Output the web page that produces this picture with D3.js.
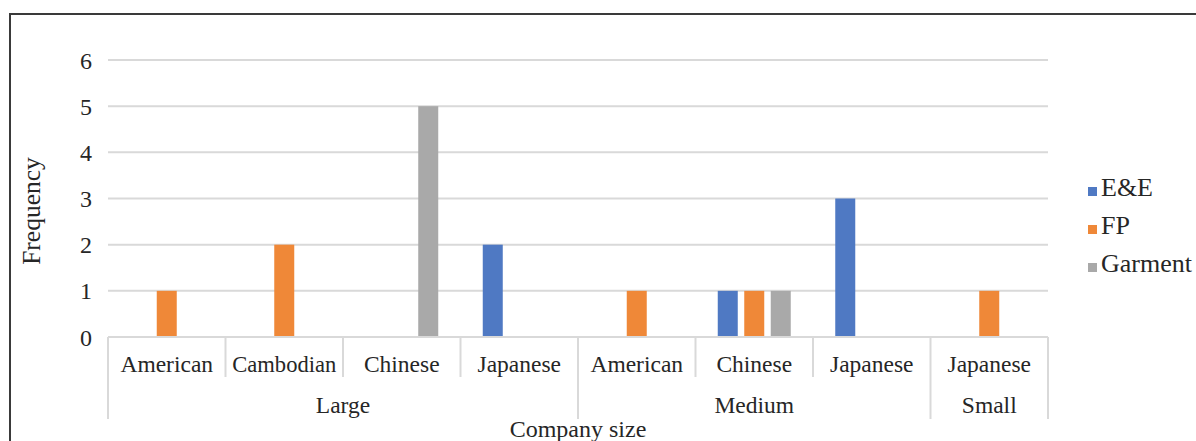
<!DOCTYPE html>
<html>
<head>
<meta charset="utf-8">
<script src="https://cdn.jsdelivr.net/npm/d3@7"></script>
<style>
  html, body { margin: 0; padding: 0; background: #fff; }
  svg { display: block; }
  text { font-family: "Liberation Serif", "Times New Roman", serif; fill: #262626; }
</style>
</head>
<body>
<svg id="chart" width="1196" height="441"></svg>
<script>
// ---- data ----
const categories = ["American", "Cambodian", "Chinese", "Japanese", "American", "Chinese", "Japanese", "Japanese"];
const groups = ["Large", "Large", "Large", "Large", "Medium", "Medium", "Medium", "Small"];
const seriesNames = ["E&E", "FP", "Garment"];
const eeValues      = [0, 0, 0, 2, 0, 1, 3, 0];
const fpValues      = [1, 2, 0, 0, 1, 1, 0, 1];
const garmentValues = [0, 0, 5, 0, 0, 1, 0, 0];
const yTicks = [0, 1, 2, 3, 4, 5, 6];
const xTitle = "Company size";
const yTitle = "Frequency";
const colors = ["#4F79C3", "#EF8838", "#A9A9A9"];

const seriesValues = [eeValues, fpValues, garmentValues];

const svg = d3.select("#chart");

// outer frame
svg.append("path")
  .attr("d", "M10,441 L10,14 L1196,14")
  .attr("fill", "none").attr("stroke", "#3a3a3a").attr("stroke-width", 2);

const plotLeft = 108, plotRight = 1048, plotTop = 60, plotBottom = 337;

const y = d3.scaleLinear().domain([0, 6]).range([plotBottom, plotTop]);
const idx = categories.map((d, i) => i);
const x = d3.scaleBand().domain(idx).range([plotLeft, plotRight]).padding(0);
const xi = d3.scaleBand().domain(seriesNames).range([0, x.bandwidth()])
  .paddingInner(0.245).paddingOuter(0.84);

// gridlines
svg.append("g").selectAll("line").data(yTicks.filter(t => t > 0)).join("line")
  .attr("x1", plotLeft).attr("x2", plotRight)
  .attr("y1", d => y(d)).attr("y2", d => y(d))
  .attr("stroke", "#d9d9d9").attr("stroke-width", 2);

// y tick labels
svg.append("g").selectAll("text").data(yTicks).join("text")
  .attr("x", 92).attr("y", d => y(d) + 8.5)
  .attr("text-anchor", "end")
  .style("font-size", "24px")
  .text(d => d);

// y title
svg.append("text")
  .attr("transform", "translate(40,211) rotate(-90)")
  .attr("text-anchor", "middle")
  .style("font-size", "25.5px")
  .text(yTitle);

// bars
seriesNames.forEach((s, si) => {
  svg.append("g").selectAll("rect")
    .data(seriesValues[si].map((v, i) => ({ v, i })).filter(d => d.v > 0))
    .join("rect")
    .attr("x", d => x(d.i) + xi(s))
    .attr("width", xi.bandwidth())
    .attr("y", d => y(d.v))
    .attr("height", d => y(0) - y(d.v))
    .attr("fill", colors[si]);
});

// axis line
svg.append("line")
  .attr("x1", plotLeft).attr("x2", plotRight)
  .attr("y1", y(0)).attr("y2", y(0))
  .attr("stroke", "#d9d9d9").attr("stroke-width", 2);

// group spans
const groupSpans = [];
groups.forEach((g, i) => {
  const last = groupSpans[groupSpans.length - 1];
  if (last && last.name === g) last.end = i; else groupSpans.push({ name: g, start: i, end: i });
});
const boundaries = new Set([0, ...groupSpans.map(g => g.end + 1)]);

// separators
const sepIdx = d3.range(categories.length + 1);
svg.append("g").selectAll("line").data(sepIdx).join("line")
  .attr("x1", d => plotLeft + d * x.step()).attr("x2", d => plotLeft + d * x.step())
  .attr("y1", y(0)).attr("y2", d => boundaries.has(d) ? 419 : 377)
  .attr("stroke", "#d9d9d9").attr("stroke-width", 2);

// category labels
svg.append("g").selectAll("text").data(idx).join("text")
  .attr("x", d => x(d) + x.bandwidth() / 2)
  .attr("y", 372)
  .attr("text-anchor", "middle")
  .style("font-size", "23.5px")
  .each(function(d) {
    const t = d3.select(this).text(categories[d]);
    if (this.getComputedTextLength() > 104) t.attr("textLength", 104).attr("lengthAdjust", "spacingAndGlyphs");
  });

// group labels
svg.append("g").selectAll("text").data(groupSpans).join("text")
  .attr("x", d => (x(d.start) + x(d.end) + x.bandwidth()) / 2)
  .attr("y", 413)
  .attr("text-anchor", "middle")
  .style("font-size", "23.5px")
  .text(d => d.name);

// x title
svg.append("text")
  .attr("x", (plotLeft + plotRight) / 2).attr("y", 437)
  .attr("text-anchor", "middle")
  .style("font-size", "24px")
  .text(xTitle);

// legend
const legendY = [196, 234, 272];
const lg = svg.append("g").selectAll("g").data(seriesNames).join("g");
lg.append("rect")
  .attr("x", 1088).attr("y", (d, i) => legendY[i] - 9)
  .attr("width", 9).attr("height", 9)
  .attr("fill", (d, i) => colors[i]);
lg.append("text")
  .attr("x", 1101).attr("y", (d, i) => legendY[i])
  .style("font-size", "26px")
  .text(d => d);
</script>
</body>
</html>
